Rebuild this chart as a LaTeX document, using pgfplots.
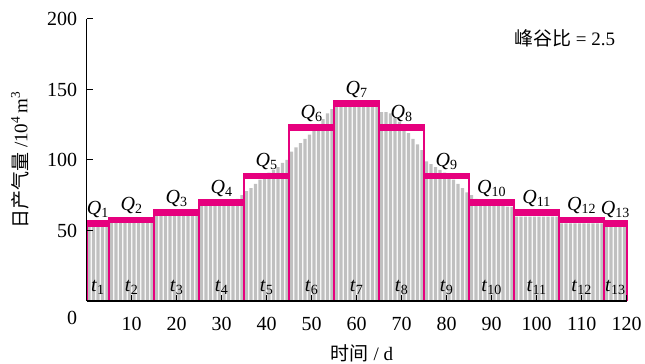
\documentclass[border=0pt]{standalone}
\usepackage{fontspec}
\setmainfont{Liberation Serif}
\newfontfamily\cjk{Noto Sans CJK SC}
\usepackage{pgfplots}
\pgfplotsset{compat=1.18}
\definecolor{mag}{RGB}{230,0,126}
\definecolor{barg}{RGB}{192,192,192}
\tikzset{
  QL/.style={anchor=base, inner sep=0pt, yshift=6bp, font=\fontsize{20bp}{22bp}\selectfont},
  TL/.style={anchor=base, inner sep=0pt, font=\fontsize{20bp}{22bp}\selectfont},
}
\begin{document}
\begin{tikzpicture}[font=\fontsize{19bp}{22bp}\selectfont]
\useasboundingbox (-86.7bp,-63bp) rectangle (558.3bp,301bp);
\begin{axis}[
  scale only axis, width=540bp, height=282bp,
  at={(0,0)}, anchor=south west,
  xmin=0, xmax=120, ymin=0, ymax=200,
  clip=false,
  axis lines*=left, axis line style={-, line width=1.1bp, black},
  axis on top,
  xtick={10,20,...,120}, ytick={50,100,150,200},
  extra y ticks={0},
  extra y tick style={major tick length=0pt, yticklabel style={yshift=-17bp}},
  tick align=inside, major tick length=6bp,
  tick style={black, line width=1bp},
  /pgf/number format/assume math mode=true,
  tick label style={font=\fontsize{20bp}{22bp}\selectfont},
  yticklabel style={xshift=-6bp},
  xticklabel style={yshift=-12.5bp},
  xlabel={{\cjk 时间} / d},
  ylabel={{\cjk 日产气量} /10\textsuperscript{4}\,m\textsuperscript{3}},
  xlabel style={at={(axis description cs:0.51,-0.184)}, anchor=center},
  ylabel style={at={(axis description cs:-0.1235,0.5)}, anchor=center},
  unbounded coords=jump,
]
% daily bars
\addplot[ybar, bar width=0.72, bar shift=0pt, fill=barg, draw=none] coordinates {
(0.5,53)(1.5,53)(2.5,53)(3.5,53)(4.5,53)
(5.5,55.5)(6.5,55.5)(7.5,55.5)(8.5,55.5)(9.5,55.5)(10.5,55.5)(11.5,55.5)(12.5,55.5)(13.5,55.5)(14.5,55.5)
(15.5,60.3)(16.5,60.3)(17.5,60.3)(18.5,60.3)(19.5,60.3)(20.5,60.3)(21.5,60.3)(22.5,60.3)(23.5,60.3)(24.5,60.3)
(25.5,67.6)(26.5,67.6)(27.5,67.6)(28.5,67.6)(29.5,67.6)(30.5,67.6)(31.5,67.6)(32.5,70)(33.5,72.5)(34.5,75)
(35.5,78)(36.5,80)(37.5,83)(38.5,86)(39.5,88)(40.5,91)(41.5,93)(42.5,95)(43.5,98)(44.5,100)
(45.5,106)(46.5,109)(47.5,112)(48.5,115)(49.5,118)(50.5,121)(51.5,125)(52.5,129)(53.5,133)(54.5,136)
(55.5,138)(56.5,138)(57.5,138)(58.5,138)(59.5,138)(60.5,138)(61.5,138)(62.5,138)(63.5,138)(64.5,138)
(65.5,134)(66.5,134)(67.5,133)(68.5,130)(69.5,127)(70.5,123)(71.5,119)(72.5,115)(73.5,111)(74.5,107)
(75.5,99)(76.5,97)(77.5,95)(78.5,93)(79.5,91)(80.5,88)(81.5,86)(82.5,83)(83.5,80)(84.5,77)
(85.5,75)(86.5,72.5)(87.5,67.6)(88.5,67.6)(89.5,67.5)(90.5,67.4)(91.5,67.3)(92.5,67.2)(93.5,67)(94.5,66.8)
(95.5,59.8)(96.5,59.8)(97.5,59.8)(98.5,59.8)(99.5,59.8)(100.5,59.8)(101.5,59.8)(102.5,59.8)(103.5,59.8)(104.5,59.8)
(105.5,55)(106.5,55)(107.5,55)(108.5,55)(109.5,55)(110.5,55)(111.5,55)(112.5,55)(113.5,55)(114.5,55)
(115.5,52.7)(116.5,52.7)(117.5,52.7)(118.5,52.7)(119.5,52.7)
};
% segment side lines
\addplot[color=mag, line width=1.6bp, mark=none] coordinates {
(0.2,0)(0.2,57.4)(0.2,nan)
(5,0)(5,59.8)(5,nan)
(15,0)(15,65)(15,nan)
(25,0)(25,72.3)(25,nan)
(35,0)(35,91)(35,nan)
(45,0)(45,125.5)(45,nan)
(55,0)(55,142.5)(55,nan)
(65,0)(65,142.5)(65,nan)
(75,0)(75,125.5)(75,nan)
(85,0)(85,91)(85,nan)
(95,0)(95,72.3)(95,nan)
(105,0)(105,65)(105,nan)
(115,0)(115,59.8)(115,nan)
(120,0)(120,57.4)
};
% step bands
\addplot[fill=mag, draw=none] coordinates {(0,52.8)(5,52.8)(5,57.4)(0,57.4)};
\addplot[fill=mag, draw=none] coordinates {(5,55.2)(15,55.2)(15,59.8)(5,59.8)};
\addplot[fill=mag, draw=none] coordinates {(15,60.4)(25,60.4)(25,65)(15,65)};
\addplot[fill=mag, draw=none] coordinates {(25,67.7)(35,67.7)(35,72.3)(25,72.3)};
\addplot[fill=mag, draw=none] coordinates {(35,86.4)(45,86.4)(45,91)(35,91)};
\addplot[fill=mag, draw=none] coordinates {(45,120.9)(55,120.9)(55,125.5)(45,125.5)};
\addplot[fill=mag, draw=none] coordinates {(55,137.9)(65,137.9)(65,142.5)(55,142.5)};
\addplot[fill=mag, draw=none] coordinates {(65,120.9)(75,120.9)(75,125.5)(65,125.5)};
\addplot[fill=mag, draw=none] coordinates {(75,86.4)(85,86.4)(85,91)(75,91)};
\addplot[fill=mag, draw=none] coordinates {(85,67.7)(95,67.7)(95,72.3)(85,72.3)};
\addplot[fill=mag, draw=none] coordinates {(95,60.4)(105,60.4)(105,65)(95,65)};
\addplot[fill=mag, draw=none] coordinates {(105,55.2)(115,55.2)(115,59.8)(105,59.8)};
\addplot[fill=mag, draw=none] coordinates {(115,52.8)(120,52.8)(120,57.4)(115,57.4)};
% labels
\node[QL] at (axis cs:2.5,57.4) {\textit{Q}\textsubscript{1}};
\node[QL] at (axis cs:10,59.8) {\textit{Q}\textsubscript{2}};
\node[QL] at (axis cs:20,65) {\textit{Q}\textsubscript{3}};
\node[QL] at (axis cs:30,72.3) {\textit{Q}\textsubscript{4}};
\node[QL] at (axis cs:40,91) {\textit{Q}\textsubscript{5}};
\node[QL] at (axis cs:50,125.5) {\textit{Q}\textsubscript{6}};
\node[QL] at (axis cs:60,142.5) {\textit{Q}\textsubscript{7}};
\node[QL] at (axis cs:70,125.5) {\textit{Q}\textsubscript{8}};
\node[QL] at (axis cs:80,91) {\textit{Q}\textsubscript{9}};
\node[QL] at (axis cs:90,72.3) {\textit{Q}\textsubscript{10}};
\node[QL] at (axis cs:100,65) {\textit{Q}\textsubscript{11}};
\node[QL] at (axis cs:110,59.8) {\textit{Q}\textsubscript{12}};
\node[QL] at (axis cs:117.5,57.4) {\textit{Q}\textsubscript{13}};
\node[TL] at (axis cs:2.5,7) {\textit{t}\textsubscript{1}};
\node[TL] at (axis cs:10,7) {\textit{t}\textsubscript{2}};
\node[TL] at (axis cs:20,7) {\textit{t}\textsubscript{3}};
\node[TL] at (axis cs:30,7) {\textit{t}\textsubscript{4}};
\node[TL] at (axis cs:40,7) {\textit{t}\textsubscript{5}};
\node[TL] at (axis cs:50,7) {\textit{t}\textsubscript{6}};
\node[TL] at (axis cs:60,7) {\textit{t}\textsubscript{7}};
\node[TL] at (axis cs:70,7) {\textit{t}\textsubscript{8}};
\node[TL] at (axis cs:80,7) {\textit{t}\textsubscript{9}};
\node[TL] at (axis cs:90,7) {\textit{t}\textsubscript{10}};
\node[TL] at (axis cs:100,7) {\textit{t}\textsubscript{11}};
\node[TL] at (axis cs:110,7) {\textit{t}\textsubscript{12}};
\node[TL] at (axis cs:117.5,7) {\textit{t}\textsubscript{13}};
\node at (axis cs:106.2,186.5) {{\cjk 峰谷比} = 2.5};
\end{axis}
\end{tikzpicture}
\end{document}
